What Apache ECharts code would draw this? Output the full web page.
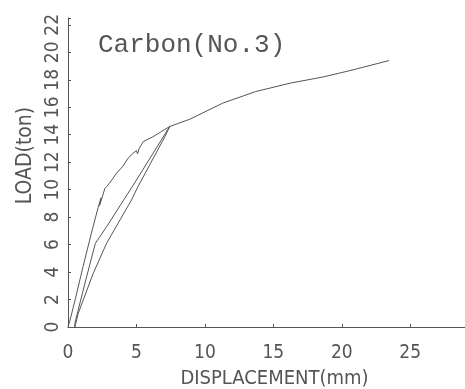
<!DOCTYPE html>
<html>
<head>
<meta charset="utf-8">
<script src="https://cdn.jsdelivr.net/npm/echarts@6/dist/echarts.min.js"></script>
<style>
html, body { margin: 0; padding: 0; background: #fff; }
#main { width: 465px; height: 389px; }
</style>
</head>
<body>
<div id="main"></div>
<script>
// load-displacement record, [displacement mm, load ton]
var loading = [[0, 0], [0.15, 0.5], [0.55, 2.1], [1.1, 4.4], [1.7, 6.8], [2.2, 8.7], [2.42, 9.4],
    [2.3, 8.85], [2.45, 9.3], [2.7, 10.1], [2.85, 10.25], [3.2, 10.7], [3.55, 11.2], [4.0, 11.7],
    [4.4, 12.3], [4.75, 12.65], [5.0, 12.85], [5.08, 12.6], [5.2, 13.0], [5.5, 13.5], [6.2, 13.85],
    [6.85, 14.25], [7.43, 14.6]];
var unloading = [[7.43, 14.6], [7.1, 13.9], [5.1, 10.2], [4.64, 9.25], [2.82, 6.1], [1.84, 3.9],
    [0.75, 1.0], [0.5, 0]];
var reloading = [[0.5, 0], [0.5, 0.27], [1.24, 3.2], [2.0, 6.1], [2.82, 7.3], [5.0, 10.7], [7.43, 14.6]];
var envelope = [[7.43, 14.6], [8.9, 15.13], [11.3, 16.3], [13.7, 17.14], [16.2, 17.75],
    [18.6, 18.2], [19.8, 18.48], [21.0, 18.77], [23.45, 19.4]];

var xTicks = [0, 5, 10, 15, 20, 25];
var yTicks = [0, 2, 4, 6, 8, 10, 12, 14, 16, 18, 20, 22];

var lineColor = '#555';
var textColor = '#555';
var tickFont = '"Liberation Sans Narrow", "DejaVu Sans Condensed", "DejaVu Sans", sans-serif';

var myChart = echarts.init(document.getElementById('main'));

function curve(data) {
    return {
        type: 'line',
        data: data,
        symbol: 'none',
        silent: true,
        lineStyle: { color: lineColor, width: 1 }
    };
}

var option = {
    backgroundColor: '#fff',
    animation: false,
    title: {
        text: 'Carbon(No.3)',
        left: 93,
        top: 27,
        textStyle: {
            fontFamily: '"Liberation Mono", monospace',
            fontSize: 26,
            fontWeight: 'normal',
            color: textColor
        }
    },
    grid: {
        left: 68,
        right: 0,
        top: 18,
        bottom: 62,
        outerBoundsMode: 'none'
    },
    xAxis: {
        type: 'value',
        min: 0,
        max: 29,
        interval: 5,
        name: 'DISPLACEMENT(mm)',
        nameLocation: 'middle',
        nameGap: 42,
        nameTextStyle: {
            fontFamily: tickFont,
            fontSize: 20,
            color: textColor,
            padding: [0, 0, 0, 16]
        },
        splitLine: { show: false },
        axisLine: { lineStyle: { color: lineColor, width: 1 } },
        axisTick: { inside: true, length: 3, lineStyle: { color: lineColor } },
        axisLabel: {
            margin: 17,
            fontFamily: tickFont,
            fontSize: 19,
            color: textColor,
            formatter: function (v) { return xTicks.indexOf(v) >= 0 ? String(v) : ''; }
        }
    },
    yAxis: {
        type: 'value',
        min: 0,
        max: 22.5,
        interval: 2,
        name: 'LOAD(ton)',
        nameLocation: 'middle',
        nameRotate: 90,
        nameGap: 31,
        nameTextStyle: {
            fontFamily: tickFont,
            fontSize: 21,
            color: textColor,
            padding: [0, 0, 0, 34]
        },
        splitLine: { show: false },
        axisLine: { lineStyle: { color: lineColor, width: 1 } },
        axisTick: { inside: true, length: 3, lineStyle: { color: lineColor } },
        axisLabel: {
            rotate: 90,
            margin: 5,
            fontFamily: tickFont,
            fontSize: 19,
            color: textColor,
            formatter: function (v) { return yTicks.indexOf(v) >= 0 ? String(v) : ''; }
        }
    },
    series: [curve(loading), curve(unloading), curve(reloading), curve(envelope)]
};
myChart.setOption(option);
</script>
</body>
</html>
